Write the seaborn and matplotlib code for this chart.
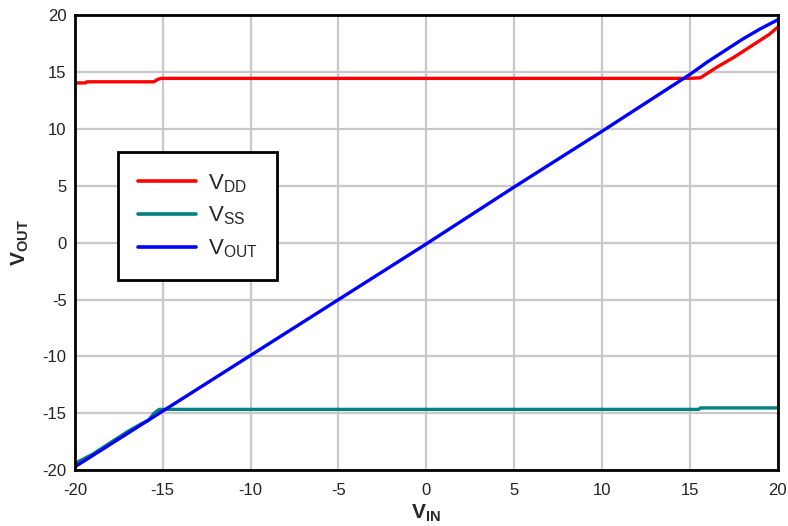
import numpy as np
import pandas as pd
import matplotlib
matplotlib.use("Agg")
import matplotlib.pyplot as plt
import seaborn as sns

# DATA
vdd_x = [-20, -19.4, -19.3, -15.5, -15.3, -15.1, 0, 15.0, 15.6, 16.5, 17.5, 18.5, 19.5, 20]
vdd_y = [14.05, 14.05, 14.15, 14.15, 14.35, 14.45, 14.45, 14.45, 14.5, 15.4, 16.3, 17.3, 18.3, 18.95]

vss_x = [-20, -19, -18, -17, -16.2, -15.8, -15.5, -15.2, 0, 15.5, 15.6, 20]
vss_y = [-19.4, -18.6, -17.6, -16.6, -15.9, -15.6, -15.0, -14.65, -14.65, -14.65, -14.52, -14.52]

vout_x = [-20, -15, -10, -5, 0, 5, 10, 15, 16, 17, 18, 19, 20]
vout_y = [-19.7, -14.8, -9.9, -5.0, -0.1, 4.9, 9.8, 14.8, 15.9, 16.9, 17.9, 18.8, 19.6]

labels = [r"V$_{\mathrm{DD}}$", r"V$_{\mathrm{SS}}$", r"V$_{\mathrm{OUT}}$"]
colors = ["#ff0000", "#008080", "#0000ff"]

df = pd.concat([
    pd.DataFrame({"vin": vdd_x, "v": vdd_y, "trace": labels[0]}),
    pd.DataFrame({"vin": vss_x, "v": vss_y, "trace": labels[1]}),
    pd.DataFrame({"vin": vout_x, "v": vout_y, "trace": labels[2]}),
])

sns.set_style("whitegrid")
plt.rcParams["font.family"] = ["Liberation Sans", "DejaVu Sans"]
plt.rcParams["axes.unicode_minus"] = False
plt.rcParams["mathtext.fontset"] = "custom"
plt.rcParams["mathtext.rm"] = "Liberation Sans"
plt.rcParams["mathtext.bf"] = "Liberation Sans:bold"

fig = plt.figure(figsize=(7.88, 5.26), dpi=100)
ax = fig.add_axes([0.095, 0.106, 0.892, 0.865])

sns.lineplot(
    data=df, x="vin", y="v", hue="trace",
    palette=dict(zip(labels, colors)),
    linewidth=2.4, sort=False, estimator=None, ax=ax,
)

ax.set_xlim(-20, 20)
ax.set_ylim(-20, 20)
ax.set_xticks(np.arange(-20, 21, 5))
ax.set_yticks(np.arange(-20, 21, 5))
ax.tick_params(axis="both", labelsize=12, length=0, colors="#222222")
ax.tick_params(axis="x", pad=9)
ax.tick_params(axis="y", pad=6)
ax.grid(True, color="#c8c8c8", linewidth=1.6)
for s in ax.spines.values():
    s.set_visible(True)
    s.set_color("black")
    s.set_linewidth(2)

ax.set_xlabel(r"$\mathbf{V}_{\mathbf{IN}}$", fontsize=15, labelpad=3)
ax.set_ylabel(r"$\mathbf{V}_{\mathbf{OUT}}$", fontsize=15, labelpad=8)

leg = ax.legend(
    loc="upper left", bbox_to_anchor=(0.061, 0.699), borderaxespad=0,
    title=None, fontsize=16, frameon=True, fancybox=False, framealpha=1,
    edgecolor="black", borderpad=0.9, handlelength=2.6, handletextpad=0.55,
    labelspacing=0.45,
)
leg.get_frame().set_linewidth(2)
for h in leg.get_lines():
    h.set_linewidth(2.6)

plt.savefig("out.png", dpi=100)
plt.close()
